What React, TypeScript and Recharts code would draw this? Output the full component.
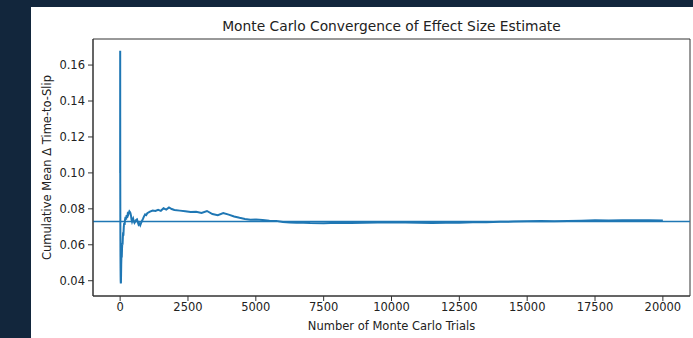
import React from 'react';
import { LineChart, Line, XAxis, YAxis, ReferenceLine, ReferenceArea, Label } from 'recharts';

// Number of trials at which the cumulative mean was sampled
const trials = [
  1, 2, 3, 4, 5, 6, 8, 10, 12, 15, 18, 20, 25, 30, 35, 40, 45, 50, 60, 70, 80, 90, 100, 110, 120,
  135, 150, 165, 180, 200, 220, 240, 260, 280, 300, 320, 340, 360, 380, 400, 420, 440, 460, 480,
  500, 530, 560, 590, 620, 650, 680, 710, 740, 770, 800, 840, 880, 920, 960, 1000, 1100, 1200,
  1300, 1400, 1500, 1600, 1700, 1800, 1900, 2000, 2200, 2400, 2600, 2800, 3000, 3200, 3400, 3600,
  3800, 4000, 4200, 4400, 4600, 4800, 5000, 5250, 5500, 5750, 6000, 6250, 6500, 6750, 7000, 7500,
  8000, 8500, 9000, 9500, 10000, 10500, 11000, 11500, 12000, 12500, 13000, 13500, 14000, 14500,
  15000, 15500, 16000, 16500, 17000, 17500, 18000, 18500, 19000, 19500, 20000,
];

// Cumulative mean of the time-to-slip difference
const cumulativeMean = [
  0.1, 0.168, 0.131, 0.112, 0.094, 0.085, 0.071, 0.062, 0.054, 0.047, 0.042, 0.04, 0.0385, 0.039,
  0.044, 0.049, 0.052, 0.056, 0.053, 0.058, 0.061, 0.06, 0.064, 0.067, 0.065, 0.07, 0.072, 0.071,
  0.074, 0.0755, 0.074, 0.0765, 0.075, 0.0772, 0.0768, 0.0778, 0.0786, 0.0782, 0.0776, 0.0762,
  0.0741, 0.0729, 0.0738, 0.0745, 0.0733, 0.0722, 0.0729, 0.0738, 0.0741, 0.0726, 0.0712, 0.0718,
  0.0709, 0.0721, 0.0731, 0.0744, 0.0758, 0.0769, 0.0765, 0.0776, 0.0785, 0.0791, 0.0788, 0.0795,
  0.0789, 0.0803, 0.0796, 0.0808, 0.0799, 0.0794, 0.079, 0.0786, 0.0782, 0.0784, 0.0777, 0.0788,
  0.0771, 0.0765, 0.0776, 0.0768, 0.0757, 0.075, 0.0744, 0.0739, 0.074, 0.0738, 0.0734, 0.0733,
  0.0727, 0.0724, 0.0722, 0.0723, 0.0721, 0.072, 0.0722, 0.0721, 0.0723, 0.0724, 0.0726, 0.0724,
  0.0722, 0.0721, 0.0722, 0.0723, 0.0725, 0.0726, 0.0728, 0.0729, 0.0731, 0.0732, 0.0731, 0.0733,
  0.0734, 0.0736, 0.0735, 0.0736, 0.0737, 0.0736, 0.0735,
];

const overallMean = 0.073;

const xTicks = [0, 2500, 5000, 7500, 10000, 12500, 15000, 17500, 20000];
const yTicks = [0.04, 0.06, 0.08, 0.1, 0.12, 0.14, 0.16];
const xDomain = [-1000, 21000];
const yDomain = [0.0315, 0.1745];

const data = trials.map((trial, i) => ({ trial, mean: cumulativeMean[i] }));

const FONT = '"DejaVu Sans", sans-serif';
const BLUE = '#1f77b4';
const SPINE = '#333';
const tickStyle = { fill: '#222', fontSize: 11.5, fontFamily: FONT };

const App = () => {
  return (
    <div style={{ position: 'relative', width: 693, height: 338, background: '#12263c' }}>
      <style>{'body{margin:0}'}</style>
      <div style={{ position: 'absolute', left: 31, top: 7, width: 662, height: 331, background: '#fff' }}>
        <div
          style={{
            position: 'absolute',
            left: 62,
            width: 597,
            top: 12,
            textAlign: 'center',
            fontFamily: FONT,
            fontSize: 13.8,
            lineHeight: '14px',
            color: '#222',
          }}
        >
          Monte Carlo Convergence of Effect Size Estimate
        </div>
        <LineChart width={662} height={331} data={data} margin={{ top: 32, right: 3, left: 0, bottom: 0 }}>
          <XAxis
            dataKey="trial"
            type="number"
            domain={xDomain}
            ticks={xTicks}
            allowDataOverflow
            height={42}
            tick={tickStyle}
            tickSize={5}
            tickMargin={2}
            stroke={SPINE}
            interval={0}
          >
            <Label
              value="Number of Monte Carlo Trials"
              position="center"
              dy={9}
              style={{ fill: '#222', fontSize: 11.5, fontFamily: FONT }}
            />
          </XAxis>
          <YAxis
            type="number"
            domain={yDomain}
            ticks={yTicks}
            allowDataOverflow
            width={62}
            tick={tickStyle}
            tickSize={5}
            tickMargin={3}
            tickFormatter={(v: number) => v.toFixed(2)}
            stroke={SPINE}
            interval={0}
          >
            <Label
              value="Cumulative Mean Δ Time-to-Slip"
              angle={-90}
              position="center"
              dx={-15}
              style={{ fill: '#222', fontSize: 11.5, fontFamily: FONT, textAnchor: 'middle' }}
            />
          </YAxis>
          {/* frame around the plot area (top and right spines) */}
          <ReferenceArea
            x1={xDomain[0]}
            x2={xDomain[1]}
            y1={yDomain[0]}
            y2={yDomain[1]}
            fill="none"
            fillOpacity={0}
            stroke={SPINE}
            strokeWidth={1}
            ifOverflow="visible"
          />
          <ReferenceLine y={overallMean} stroke={BLUE} strokeWidth={1.5} />
          <Line
            type="linear"
            dataKey="mean"
            stroke={BLUE}
            strokeWidth={2}
            dot={false}
            isAnimationActive={false}
          />
        </LineChart>
      </div>
    </div>
  );
};

export default App;
